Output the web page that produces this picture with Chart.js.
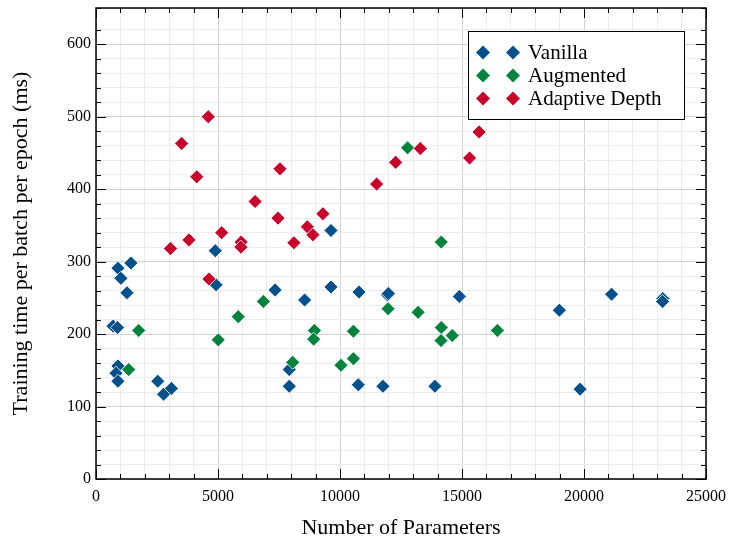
<!DOCTYPE html>
<html>
<head>
<meta charset="utf-8">
<script src="https://cdn.jsdelivr.net/npm/chart.js@4"></script>
<style>
  body { margin: 0; background: #fff; }
  #wrap { width: 732px; height: 541px; }
</style>
</head>
<body>
<div id="wrap"><canvas id="chart"></canvas></div>
<script>
// Data
const vanillaX = [700, 880, 900, 1020, 1430, 1270, 900, 820, 900, 2530, 2770, 3090, 4890, 4920, 7340, 8550, 9630, 9630, 7920, 7920, 10780, 11950, 11980, 14890, 10750, 11760, 13890, 18990, 19840, 21130, 23230, 23220];
const vanillaY = [211, 209, 291, 277, 298, 257, 156, 146, 135, 135, 117, 125, 315, 268, 261, 247, 265, 343, 128, 151, 258, 254, 256, 252, 130, 128, 128, 233, 124, 255, 249, 245];

const augmentedX = [1750, 1340, 5010, 5830, 6860, 8060, 8950, 8920, 10040, 10550, 10550, 11970, 13200, 14150, 14140, 14600, 16450, 14150, 12770];
const augmentedY = [205, 151, 192, 224, 245, 161, 205, 193, 157, 204, 166, 235, 230, 209, 191, 198, 205, 327, 457];

const adaptiveX = [4600, 3510, 4130, 3050, 3810, 5150, 5950, 5940, 6520, 7540, 7460, 8110, 8660, 8890, 9300, 4630, 11500, 12280, 13290, 15310, 15700];
const adaptiveY = [500, 463, 417, 318, 330, 340, 327, 320, 383, 428, 360, 326, 348, 337, 366, 276, 407, 437, 456, 443, 479];

const seriesNames = ["Vanilla", "Augmented", "Adaptive Depth"];
const seriesColors = ["#00508c", "#00843d", "#c8002a"];

const xTickMajor = 5000, xTickMinor = 1000;
const yTickMajor = 100, yTickMinor = 20;

const FONT = "'Liberation Serif', 'DejaVu Serif', serif";

function pts(xs, ys) {
  return xs.map((x, i) => ({ x: x, y: ys[i] }));
}

const datasets = [
  pts(vanillaX, vanillaY),
  pts(augmentedX, augmentedY),
  pts(adaptiveX, adaptiveY)
].map((d, i) => ({
  label: seriesNames[i],
  data: d,
  pointStyle: 'rectRot',
  pointRadius: 7,
  pointHoverRadius: 7,
  backgroundColor: seriesColors[i],
  borderColor: '#ffffff',
  borderWidth: 0.8,
  order: 3 - i
}));

// inner ticks, frame and legend box
const framePlugin = {
  id: 'frame',
  afterDraw(chart) {
    const ctx = chart.ctx;
    const a = chart.chartArea;
    const xs = chart.scales.x, ys = chart.scales.y;
    ctx.save();
    ctx.strokeStyle = '#000';
    ctx.lineWidth = 1;
    ctx.beginPath();
    xs.ticks.forEach(t => {
      const px = Math.round(xs.getPixelForValue(t.value)) + 0.5;
      const len = t.value % xTickMajor === 0 ? 10 : 5;
      ctx.moveTo(px, a.bottom); ctx.lineTo(px, a.bottom - len);
      ctx.moveTo(px, a.top); ctx.lineTo(px, a.top + len);
    });
    ys.ticks.forEach(t => {
      const py = Math.round(ys.getPixelForValue(t.value)) + 0.5;
      const len = t.value % yTickMajor === 0 ? 10 : 5;
      ctx.moveTo(a.left, py); ctx.lineTo(a.left + len, py);
      ctx.moveTo(a.right, py); ctx.lineTo(a.right - len, py);
    });
    ctx.stroke();
    ctx.lineWidth = 1.5;
    ctx.strokeRect(a.left, a.top, a.right - a.left, a.bottom - a.top);

    // legend
    const bx = 468.5, by = 31.5, bw = 216, bh = 88;
    ctx.fillStyle = '#fff';
    ctx.fillRect(bx, by, bw, bh);
    ctx.lineWidth = 1;
    ctx.strokeStyle = '#000';
    ctx.strokeRect(bx, by, bw, bh);
    ctx.font = "21px " + FONT;
    ctx.textBaseline = 'middle';
    chart.data.datasets.forEach((ds, i) => {
      const y = by + 21 + i * 23;
      [483, 513].forEach(x => {
        ctx.fillStyle = ds.backgroundColor;
        ctx.beginPath();
        ctx.moveTo(x, y - 7); ctx.lineTo(x + 7, y); ctx.lineTo(x, y + 7); ctx.lineTo(x - 7, y);
        ctx.closePath();
        ctx.fill();
      });
      ctx.fillStyle = '#000';
      ctx.fillText(ds.label, 528, y + 1);
    });
    ctx.restore();
  }
};

new Chart(document.getElementById('chart'), {
  type: 'scatter',
  data: { datasets: datasets },
  options: {
    responsive: true,
    maintainAspectRatio: false,
    animation: false,
    events: [],
    layout: { padding: { top: 8, right: 26, left: 0, bottom: 0 } },
    plugins: { legend: { display: false }, tooltip: { enabled: false } },
    scales: {
      x: {
        type: 'linear',
        min: 0, max: 25000,
        afterFit: s => { s.height = 62; s.paddingLeft = 0; s.paddingRight = 0; },
        border: { display: false },
        grid: {
          drawTicks: false,
          color: c => c.tick && c.tick.value % xTickMajor === 0 ? '#d2d2d2' : '#ececec',
          lineWidth: 1
        },
        ticks: {
          stepSize: xTickMinor,
          autoSkip: false,
          maxRotation: 0,
          padding: 8,
          color: '#000',
          font: { family: FONT, size: 16 },
          callback: v => v % xTickMajor === 0 ? String(v) : ''
        },
        title: {
          display: true,
          text: 'Number of Parameters',
          color: '#000',
          font: { family: FONT, size: 22 },
          padding: { top: 6, bottom: 0 }
        }
      },
      y: {
        type: 'linear',
        min: 0, max: 650,
        afterFit: s => { s.width = 96; s.paddingTop = 0; s.paddingBottom = 0; },
        border: { display: false },
        grid: {
          drawTicks: false,
          color: c => c.tick && c.tick.value % yTickMajor === 0 ? '#d2d2d2' : '#ececec',
          lineWidth: 1
        },
        ticks: {
          stepSize: yTickMinor,
          autoSkip: false,
          padding: 5,
          color: '#000',
          font: { family: FONT, size: 16 },
          callback: v => v % yTickMajor === 0 ? String(v) : ''
        },
        title: {
          display: true,
          text: 'Training time per batch per epoch (ms)',
          color: '#000',
          font: { family: FONT, size: 22 },
          padding: { top: 8, bottom: 0 }
        }
      }
    }
  },
  plugins: [framePlugin]
});
</script>
</body>
</html>
